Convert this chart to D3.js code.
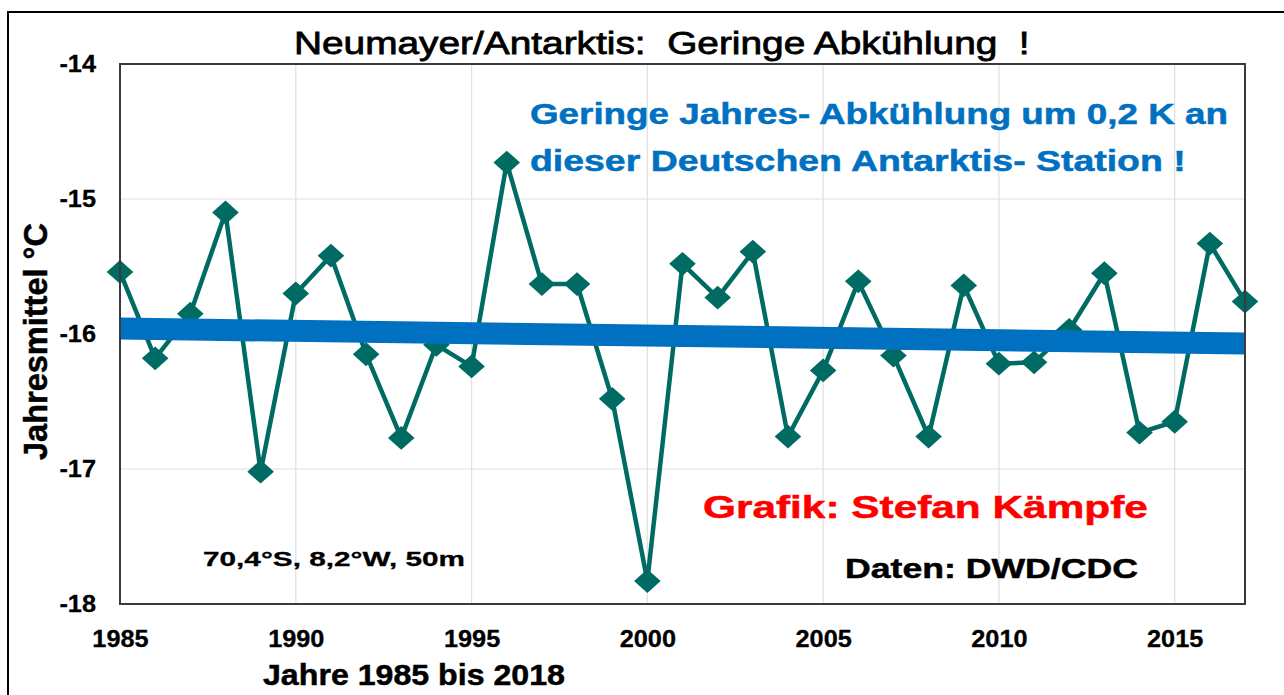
<!DOCTYPE html>
<html><head><meta charset="utf-8">
<script src="https://cdnjs.cloudflare.com/ajax/libs/d3/7.8.5/d3.min.js"></script>
<style>body{margin:0;background:#fff}svg{display:block;font-family:"Liberation Sans",Arial,sans-serif}</style>
</head><body><svg id="c" width="1284" height="695"></svg>
<script>
const years = [1985,1986,1987,1988,1989,1990,1991,1992,1993,1994,1995,1996,1997,1998,1999,2000,2001,2002,2003,2004,2005,2006,2007,2008,2009,2010,2011,2012,2013,2014,2015,2016,2017];
const temps = [-15.54,-16.18,-15.85,-15.10,-17.02,-15.70,-15.42,-16.15,-16.77,-16.08,-16.24,-14.73,-15.63,-15.63,-16.48,-17.83,-15.48,-15.73,-15.39,-16.76,-16.27,-15.61,-16.16,-16.76,-15.64,-16.22,-16.21,-15.97,-15.55,-16.73,-16.65,-15.33,-15.76];
const trendYears = [1985,2017];
const trendValues = [-15.96,-16.07];
const xTicks = [1985,1990,1995,2000,2005,2010,2015];
const yTicks = [-14,-15,-16,-17,-18];

const svg = d3.select("#c");
const L=120,R=1245,T=64,B=604;
const x = d3.scaleLinear().domain([1985,2017]).range([L,R]);
const y = d3.scaleLinear().domain([-18,-14]).range([B,T]);

// outer frame
svg.append("rect").attr("x",8).attr("y",12).attr("width",1300).attr("height",700)
  .attr("fill","none").attr("stroke","#000").attr("stroke-width",2);

// grid
svg.append("g").selectAll("line").data(xTicks.slice(1)).join("line")
  .attr("x1",d=>x(d)).attr("x2",d=>x(d)).attr("y1",T).attr("y2",B)
  .attr("stroke","#e0e0e0").attr("stroke-width",1.2);
svg.append("g").selectAll("line").data(yTicks.slice(1,-1)).join("line")
  .attr("y1",d=>y(d)).attr("y2",d=>y(d)).attr("x1",L).attr("x2",R)
  .attr("stroke","#e0e0e0").attr("stroke-width",1.2);

// axes
const xAxis = svg.append("g").attr("transform",`translate(0,${B})`)
  .call(d3.axisBottom(x).tickValues(xTicks).tickFormat(d3.format("d")).tickSize(0).tickPadding(27));
const yAxis = svg.append("g").attr("transform",`translate(${L},0)`)
  .call(d3.axisLeft(y).tickValues(yTicks).tickFormat(d=>d3.format("d")(d).replace("−","-")).tickSize(0).tickPadding(24));
[xAxis,yAxis].forEach(a=>{a.select(".domain").remove();
  a.selectAll("text").attr("font-family","Liberation Sans, Arial, sans-serif").attr("font-size",23).attr("font-weight","bold").attr("fill","#000")
   .attr("stroke","#000").attr("stroke-width",0.3)
   .each(function(){const l=this.getComputedTextLength(); d3.select(this).attr("textLength",l*1.1).attr("lengthAdjust","spacingAndGlyphs");});});

// series
const pts = years.map((yr,i)=>[yr,temps[i]]);
svg.append("path").datum(pts)
  .attr("d",d3.line().x(d=>x(d[0])).y(d=>y(d[1])))
  .attr("fill","none").attr("stroke","#006b63").attr("stroke-width",4.5).attr("stroke-linejoin","miter");
svg.append("g").selectAll("path").data(pts).join("path")
  .attr("transform",d=>`translate(${x(d[0])},${y(d[1])}) scale(1.12,1)`)
  .attr("d",d3.symbol(d3.symbolDiamond2,360))
  .attr("fill","#006b63");

// trend
svg.append("path").datum(trendYears.map((t,i)=>[t,trendValues[i]]))
  .attr("d",d3.line().x(d=>x(d[0])).y(d=>y(d[1])))
  .attr("stroke","#0070c0").attr("stroke-width",22).attr("fill","none");

// plot frame
svg.append("rect").attr("x",L).attr("y",T).attr("width",R-L).attr("height",B-T)
  .attr("fill","none").attr("stroke","#3a3a3a").attr("stroke-width",2);

// texts: scale each text horizontally to the width it has in the reference
const txt=(s,xx,yy,size,len,opts={})=>{
  const c=opts.c||"#000";
  const t=svg.append("text").text(s).attr("x",0).attr("y",0)
    .attr("font-size",size).attr("font-weight",opts.w||"bold").attr("fill",c)
    .attr("stroke",c).attr("stroke-width",opts.sw||0.5)
    .attr("xml:space","preserve").style("white-space","pre");
  const l=t.node().getComputedTextLength();
  t.attr("transform",`translate(${xx},${yy}) scale(${len/l},1)`);
  return t;};
txt("Neumayer/Antarktis:  Geringe Abkühlung  !",294,54,32,736,{w:"normal",sw:0.8});
txt("Geringe Jahres- Abkühlung um 0,2 K an",530,124,29,698,{c:"#0070c0"});
txt("dieser Deutschen Antarktis- Station !",530,171,29,656,{c:"#0070c0"});
txt("Grafik: Stefan Kämpfe",703,518,31,445,{c:"#ff0000"});
txt("Daten: DWD/CDC",845,578,28,293);
txt("70,4°S, 8,2°W, 50m",203,566,21,262,{sw:0.3});
txt("Jahre 1985 bis 2018",263,685,29,302);
const yt=svg.append("text").text("Jahresmittel °C").attr("font-size",25).attr("font-weight","bold").attr("fill","#000")
  .attr("stroke","#000").attr("stroke-width",0.4);
const yl=yt.node().getComputedTextLength();
yt.attr("transform",`translate(47,460) rotate(-90) scale(${237/yl},1.3)`);
</script></body></html>
